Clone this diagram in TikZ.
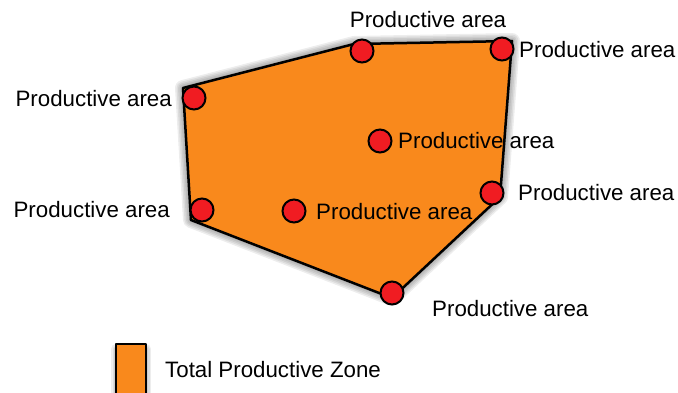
\documentclass[tikz,border=0pt]{standalone}
\usepackage{fontspec}
\setmainfont{Liberation Sans}
\definecolor{zone}{RGB}{249,137,28}
\definecolor{dot}{RGB}{240,28,34}
\begin{document}
\begin{tikzpicture}[x=1pt,y=-1pt,
  area/.style={draw=black, line width=2.5pt, fill=zone, line join=round},
  site/.style={circle, draw=black, fill=dot, line width=2pt, minimum size=23pt, inner sep=0pt},
  lbl/.style={font=\fontsize{22.3}{26}\selectfont, inner sep=0pt, text=black},
  shade/.style={fill=black, draw=black, opacity=0.07, line join=round}]
\useasboundingbox (0,0) rectangle (678,392);
\clip (0,0) rectangle (678,392);
% polygon corners
\coordinate (A) at (183,88);
\coordinate (B) at (354,44);
\coordinate (C) at (512,41);
\coordinate (D) at (500,197);
\coordinate (E) at (392,298);
\coordinate (F) at (191,220);
% soft shadow
\foreach \w in {1,4,7,10,13,16} {
  \draw[shade, line width=\w pt, shift={(1,7)}] (A) -- (B) -- (C) -- (D) -- (E) -- (F) -- cycle;
}
\draw[area] (A) -- (B) -- (C) -- (D) -- (E) -- (F) -- cycle;
% sites
\node[site] (p1) at (362,51) {};
\node[site] (p2) at (502,49) {};
\node[site] (p3) at (194,98) {};
\node[site] (p4) at (380,141) {};
\node[site] (p5) at (492,193) {};
\node[site] (p6) at (202,210) {};
\node[site] (p7) at (294,211) {};
\node[site] (p8) at (392,293) {};
% labels
\node[lbl] (t1) at (428,20) {Productive area};
\node[lbl, anchor=west] (t2) at (519,50) {Productive area};
\node[lbl, anchor=east] (t3) at (172,99) {Productive area};
\node[lbl, anchor=west] (t4) at (398,141) {Productive area};
\node[lbl, anchor=west] (t5) at (518,193) {Productive area};
\node[lbl, anchor=east] (t6) at (170,210) {Productive area};
\node[lbl, anchor=west] (t7) at (316,212) {Productive area};
\node[lbl, anchor=west] (t8) at (432,309) {Productive area};
% legend
\foreach \w in {1,4,7,10} {
  \draw[shade, line width=\w pt, shift={(0,5)}] (116,344) rectangle (146,410);
}
\draw[area, line width=2.2pt] (116,344) rectangle (146,410);
\node[lbl, anchor=west] (leg) at (165,370) {Total Productive Zone};
\end{tikzpicture}
\end{document}
